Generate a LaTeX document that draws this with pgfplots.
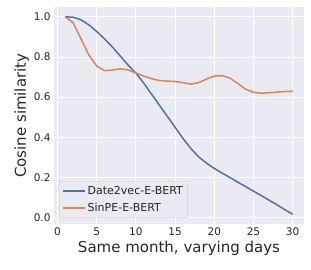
\documentclass[border=0pt]{standalone}
\usepackage{pgfplots}
\pgfplotsset{compat=1.18}
\usepackage{fontspec}
\setmainfont{DejaVu Sans}
\definecolor{sbbg}{HTML}{EAEAF2}
\definecolor{sbblue}{HTML}{4C72B0}
\definecolor{sborange}{HTML}{DD8452}
\definecolor{txt}{gray}{0.15}
\begin{document}
\begin{tikzpicture}
\useasboundingbox (-54pt,-45.5pt) rectangle (257pt,224.5pt);
\begin{axis}[
  at={(0,0)}, anchor=south west,
  scale only axis, width=250pt, height=217.5pt,
  xmin=-0.45, xmax=31.45, ymin=-0.034, ymax=1.049,
  axis background/.style={fill=sbbg},
  axis line style={draw=none},
  grid=major, major grid style={white, line width=1pt},
  tick style={draw=none},
  xtick={0,5,...,30}, ytick={0,0.2,...,1.0},
  /pgf/number format/assume math mode=true,
  xticklabel style={/pgf/number format/fixed, font=\fontsize{10.5}{12}\selectfont, text=txt},
  yticklabel style={/pgf/number format/fixed, /pgf/number format/fixed zerofill, /pgf/number format/precision=1, font=\fontsize{10.5}{12}\selectfont, text=txt},
  xlabel={Same month, varying days},
  ylabel={Cosine similarity},
  label style={font=\fontsize{15}{17}\selectfont, text=txt},
  xlabel style={yshift=2pt},
  ylabel style={yshift=-2pt},
  legend style={at={(0.02,0.03)}, anchor=south west, fill=sbbg, draw=white!80!black, rounded corners=2pt, font=\fontsize{11}{13}\selectfont, text=txt, inner xsep=3pt, inner ysep=3pt, row sep=3pt},
  legend cell align=left,
  legend image code/.code={\draw[#1] (0pt,0pt) -- (22pt,0pt);},
]
\addplot[sbblue, line width=1.5pt] coordinates {
(1,1.0) (2,0.998) (3,0.985) (4,0.96) (5,0.927) (6,0.89) (7,0.85) (8,0.805) (9,0.76) (10,0.72)
(11,0.67) (12,0.615) (13,0.56) (14,0.505) (15,0.45) (16,0.395) (17,0.345) (18,0.303) (19,0.272) (20,0.245)
(21,0.222) (22,0.2) (23,0.177) (24,0.155) (25,0.132) (26,0.11) (27,0.087) (28,0.064) (29,0.04) (30,0.017)};
\addlegendentry{Date2vec-E-BERT}
\addplot[sborange, line width=1.5pt] coordinates {
(1,1.0) (2,0.97) (3,0.89) (4,0.81) (5,0.755) (6,0.732) (7,0.735) (8,0.741) (9,0.736) (10,0.72)
(11,0.705) (12,0.692) (13,0.683) (14,0.68) (15,0.678) (16,0.672) (17,0.665) (18,0.672) (19,0.69) (20,0.705)
(21,0.707) (22,0.695) (23,0.668) (24,0.64) (25,0.624) (26,0.62) (27,0.622) (28,0.625) (29,0.628) (30,0.63)};
\addlegendentry{SinPE-E-BERT}
\end{axis}
\end{tikzpicture}
\end{document}
